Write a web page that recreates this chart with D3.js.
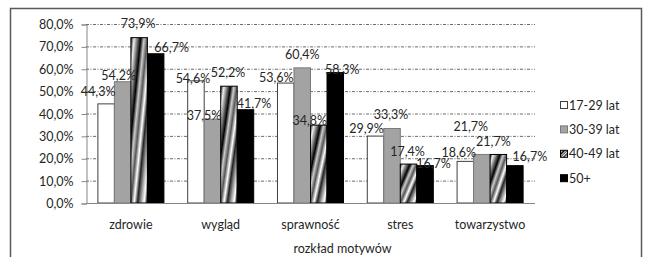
<!DOCTYPE html>
<html>
<head>
<meta charset="utf-8">
<script src="https://cdn.jsdelivr.net/npm/d3@7"></script>
<style>
  body { margin: 0; background: #fff; }
  text { font-family: Lato, "Open Sans", sans-serif; fill: #262626; }
</style>
</head>
<body>
<svg id="canvas" width="645" height="257"></svg>
<script>
// dane
let categories = ['zdrowie', 'wygląd', 'sprawność', 'stres', 'towarzystwo']
let groups = ['17-29 lat', '30-39 lat', '40-49 lat', '50+']
let v1729 = [44.3, 54.6, 53.6, 29.9, 18.6]
let v3039 = [54.2, 37.5, 60.4, 33.3, 21.7]
let v4049 = [73.9, 52.2, 34.8, 17.4, 21.7]
let v50 = [66.7, 41.7, 58.3, 16.7, 16.7]
let yTicks = [0, 10, 20, 30, 40, 50, 60, 70, 80]
let axisTitle = 'rozkład motywów'

let series = [v1729, v3039, v4049, v50]

// przesunięcia etykiet (ręcznie ustawione jak w oryginale)
let labelShift = [
  [[-8, -12], [-3, -2], [-9.5, -5.5], [-9, -8], [-6.5, -9]],
  [[-4, -6.7], [-8.5, -4], [0, -13], [-1, -14], [-11, -27.7]],
  [[-1, -14], [-1, -13.5], [-9, -5], [-1, -12.5], [-5, -12.7]],
  [[16, -6.5], [8.5, -6.4], [7, -3.3], [8.5, -2.3], [15, -9]]
]

let fills = ['#ffffff', '#a3a3a3', 'url(#stripes)', '#000000']
let strokes = ['#404040', '#7a7a7a', '#000000', '#000000']

let canvas = d3.select('#canvas')
let fmt = (v) => d3.format('.1f')(v).replace('.', ',') + '%'

// gradient "metaliczny" dla grupy 40-49 (paski w kierunku "/")
let defs = canvas.append('defs')
let grad = defs.append('linearGradient')
  .attr('id', 'stripes')
  .attr('x1', 0).attr('y1', 0).attr('x2', 1).attr('y2', 1)
let stops = ['#111', '#eee', '#777', '#000', '#ccc', '#555', '#fff', '#222', '#999', '#fff', '#111']
stops.forEach((c, i) => {
  grad.append('stop').attr('offset', i / (stops.length - 1)).attr('stop-color', c)
})

canvas.append('rect')
  .attr('x', 10.5).attr('y', 8.5)
  .attr('width', 631).attr('height', 270)
  .attr('fill', '#fff')
  .attr('stroke', '#5a5a5a')
  .attr('stroke-width', 1.5)

let x0 = d3.scaleBand().domain(categories).range([86, 535])
let x1 = d3.scaleBand().domain(d3.range(groups.length))
  .range([0, x0.bandwidth()]).paddingOuter(0.72)
let y = d3.scaleLinear().domain([0, 80]).range([203, 24])

// linie siatki
canvas.append('g')
  .selectAll('line')
  .data(yTicks.slice(1))
  .enter()
  .append('line')
  .attr('x1', 86).attr('x2', 535)
  .attr('y1', (d) => y(d) + 0.5).attr('y2', (d) => y(d) + 0.5)
  .attr('stroke', '#6a6a6a')
  .attr('stroke-dasharray', '3,1.5,1,1.5')

// słupki
series.forEach((vals, s) => {
  canvas.append('g')
    .selectAll('rect')
    .data(vals)
    .enter()
    .append('rect')
    .attr('x', (d, i) => x0(categories[i]) + x1(s))
    .attr('y', (d) => y(d))
    .attr('width', x1.bandwidth())
    .attr('height', (d) => y(0) - y(d))
    .attr('fill', fills[s])
    .attr('stroke', strokes[s])
    .attr('stroke-width', 1)
})

// oś Y
let yAxis = d3.axisLeft(y)
  .tickValues(yTicks)
  .tickFormat(fmt)
  .tickSize(5)
  .tickPadding(8)
let gy = canvas.append('g')
  .attr('transform', 'translate(86.5,0.5)')
  .call(yAxis)
gy.select('.domain').attr('stroke', '#868686')
gy.selectAll('.tick line').attr('stroke', '#868686')
gy.selectAll('.tick text')
  .style('font-size', '12.5px')
  .style('font-family', 'Lato, sans-serif')
  .attr('fill', '#262626')

// oś X
canvas.append('line')
  .attr('x1', 86).attr('x2', 535)
  .attr('y1', 203.5).attr('y2', 203.5)
  .attr('stroke', '#868686')

canvas.append('g')
  .selectAll('text')
  .data(categories)
  .enter()
  .append('text')
  .attr('x', (d) => x0(d) + x0.bandwidth() / 2)
  .attr('y', 224.5)
  .attr('text-anchor', 'middle')
  .attr('dominant-baseline', 'central')
  .style('font-size', '12.5px')
  .text((d) => d)

canvas.append('text')
  .attr('x', (86 + 535) / 2 + 32)
  .attr('y', 248.5)
  .attr('text-anchor', 'middle')
  .attr('dominant-baseline', 'central')
  .style('font-size', '12.5px')
  .text(axisTitle)

// etykiety wartości
series.forEach((vals, s) => {
  canvas.append('g')
    .selectAll('text')
    .data(vals)
    .enter()
    .append('text')
    .attr('x', (d, i) => x0(categories[i]) + x1(s) + x1.bandwidth() / 2 + labelShift[s][i][0])
    .attr('y', (d, i) => y(d) + labelShift[s][i][1])
    .attr('text-anchor', 'middle')
    .attr('dominant-baseline', 'central')
    .style('font-size', '12.5px')
    .text((d) => fmt(d))
})

// legenda
let legend = canvas.append('g')
  .selectAll('g')
  .data(groups)
  .enter()
  .append('g')
  .attr('transform', (d, i) => 'translate(560,' + (105 + i * 24.4) + ')')

legend.append('rect')
  .attr('x', 0.5).attr('y', -3.5)
  .attr('width', 7).attr('height', 7)
  .attr('fill', (d, i) => fills[i])
  .attr('stroke', (d, i) => strokes[i])

legend.append('text')
  .attr('x', 9)
  .attr('y', 0)
  .attr('dominant-baseline', 'central')
  .style('font-size', '12.5px')
  .text((d) => d)
</script>
</body>
</html>
